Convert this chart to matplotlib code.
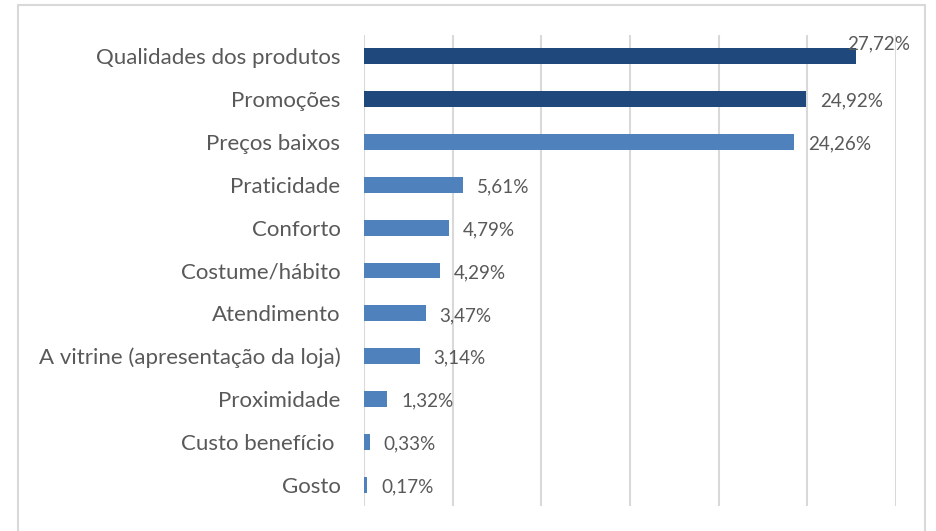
import matplotlib.pyplot as plt
from matplotlib.patches import Rectangle

# ---- Data (bottom to top) ----
categories = ["Gosto", "Custo benefício ", "Proximidade",
              "A vitrine (apresentação da loja)", "Atendimento",
              "Costume/hábito", "Conforto", "Praticidade",
              "Preços baixos", "Promoções", "Qualidades dos produtos"]
values = [0.17, 0.33, 1.32, 3.14, 3.47, 4.29, 4.79, 5.61, 24.26, 24.92, 27.72]
labels = ["0,17%", "0,33%", "1,32%", "3,14%", "3,47%", "4,29%", "4,79%",
          "5,61%", "24,26%", "24,92%", "27,72%"]

dark = "#1F497D"
light = "#4F81BD"
colors = [light] * 9 + [dark] * 2
text_col = "#595959"

plt.rcParams["font.family"] = ["Lato", "DejaVu Sans"]

fig = plt.figure(figsize=(9.37, 5.31), dpi=100)
ax = fig.add_axes([364 / 937, 25 / 531, 532 / 937, 471 / 531])

y = range(len(categories))
ax.barh(y, values, height=0.37, color=colors, zorder=3)

ax.set_xlim(0, 30)
ax.set_ylim(-0.5, len(categories) - 0.5)
ax.set_xticks(range(0, 31, 5))
ax.xaxis.grid(True, color="#D9D9D9", linewidth=1.5, zorder=0)
ax.tick_params(axis="x", length=0, labelbottom=False)
ax.tick_params(axis="y", length=0, pad=17)
ax.set_yticks(list(y))
ax.set_yticklabels(categories, fontsize=16, color=text_col)
for s in ax.spines.values():
    s.set_visible(False)

# ---- Value labels ----
for i, (v, lab) in enumerate(zip(values, labels)):
    if i == len(values) - 1:
        ax.annotate(lab, (v, i), xytext=(-6, 9), textcoords="offset points",
                    ha="left", va="center", fontsize=13.6, color=text_col)
    else:
        ax.annotate(lab, (v, i), xytext=(10, -1.5), textcoords="offset points",
                    ha="left", va="center", fontsize=13.6, color=text_col)

# ---- Outer frame ----
fig.patches.append(Rectangle((18 / 937, -0.05), (925 - 18) / 937, (531 - 5) / 531 + 0.05,
                             transform=fig.transFigure, fill=False,
                             edgecolor="#D9D9D9", linewidth=1.5))

fig.savefig("out.png", dpi=100)
